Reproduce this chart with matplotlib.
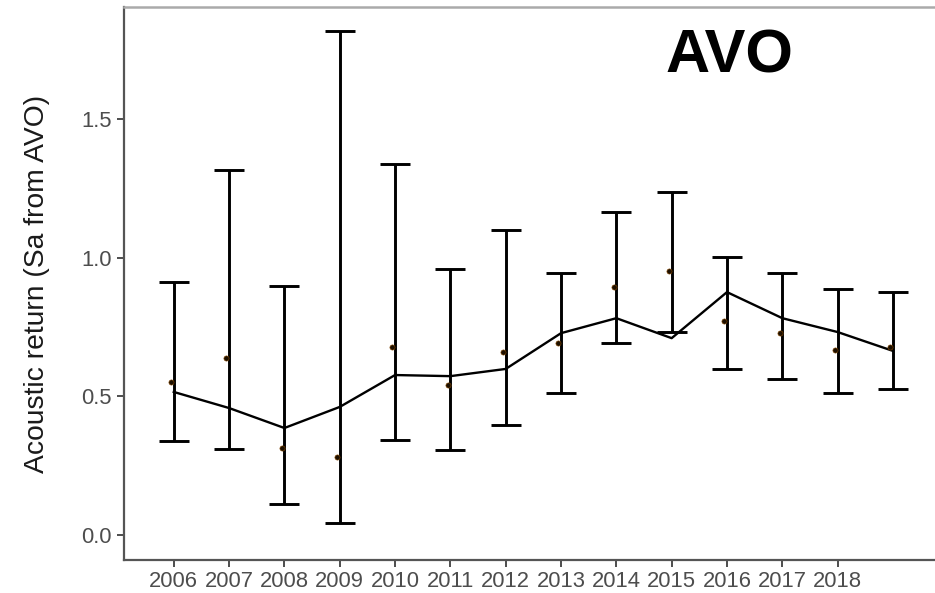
import matplotlib
matplotlib.use("Agg")
import matplotlib.pyplot as plt

# yearly estimates
years = [2006, 2007, 2008, 2009, 2010, 2011, 2012, 2013, 2014, 2015, 2016, 2017, 2018, 2019]
mean_sa = [0.516, 0.458, 0.386, 0.462, 0.577, 0.573, 0.599, 0.728, 0.782, 0.710,
           0.876, 0.782, 0.732, 0.664]
upper = [0.912, 1.316, 0.898, 1.818, 1.338, 0.959, 1.100, 0.945, 1.165, 1.237,
         1.003, 0.945, 0.887, 0.876]
lower = [0.339, 0.310, 0.112, 0.043, 0.343, 0.307, 0.397, 0.512, 0.692, 0.732,
         0.597, 0.562, 0.512, 0.526]
observed = [0.552, 0.640, 0.314, 0.281, 0.678, 0.541, 0.660, 0.692, 0.894, 0.952,
            0.772, 0.728, 0.667, 0.678]
tick_years = [2006, 2007, 2008, 2009, 2010, 2011, 2012, 2013, 2014, 2015, 2016, 2017, 2018]
y_ticks = [0.0, 0.5, 1.0, 1.5]

plt.rcParams['font.family'] = ['Liberation Sans', 'DejaVu Sans']

fig = plt.figure(figsize=(9.35, 5.93), dpi=100)
ax = fig.add_axes([0.1326, 0.0556, 0.8674, 0.9326])

# the interval is not centred on the fitted line (2015 sits below it), so
# draw each bar around the middle of its own interval
mid = [(hi + lo) / 2 for hi, lo in zip(upper, lower)]
half = [(hi - lo) / 2 for hi, lo in zip(upper, lower)]
ax.errorbar(years, mid, yerr=half, fmt='none', ecolor='black',
            elinewidth=2.1, capsize=10.5, capthick=2.1, zorder=2)
ax.plot(years, mean_sa, color='black', lw=1.7, zorder=3)
ax.scatter([y - 0.05 for y in years], observed, s=14, color='#1e1000',
           edgecolors='#8a4a00', linewidths=0.4, zorder=4)

ax.set_xlim(2005.1, 2019.76)
ax.set_ylim(-0.09, 1.904)
ax.set_xticks(tick_years)
ax.set_xticklabels([str(y) for y in tick_years])
ax.set_yticks(y_ticks)
ax.set_yticklabels([f"{v:.1f}" for v in y_ticks])

ax.tick_params(axis='x', labelsize=15.8, colors='#4d4d4d', length=5, width=1.4, pad=3)
ax.tick_params(axis='y', labelsize=15.8, colors='#4d4d4d', length=5, width=1.4, pad=4)

ax.spines['right'].set_visible(False)
ax.spines['top'].set_color('#aaaaaa')
ax.spines['top'].set_linewidth(1.8)
for side in ['left', 'bottom']:
    ax.spines[side].set_color('#555555')
    ax.spines[side].set_linewidth(1.6)

ax.set_ylabel('Acoustic return (Sa from AVO)', fontsize=20.3, color='#1a1a1a', labelpad=22)

fig.text(729 / 935, 1 - 57 / 593, 'AVO', fontsize=44, fontweight='bold',
         ha='center', va='center', color='black')

fig.savefig('out.png', dpi=100)
